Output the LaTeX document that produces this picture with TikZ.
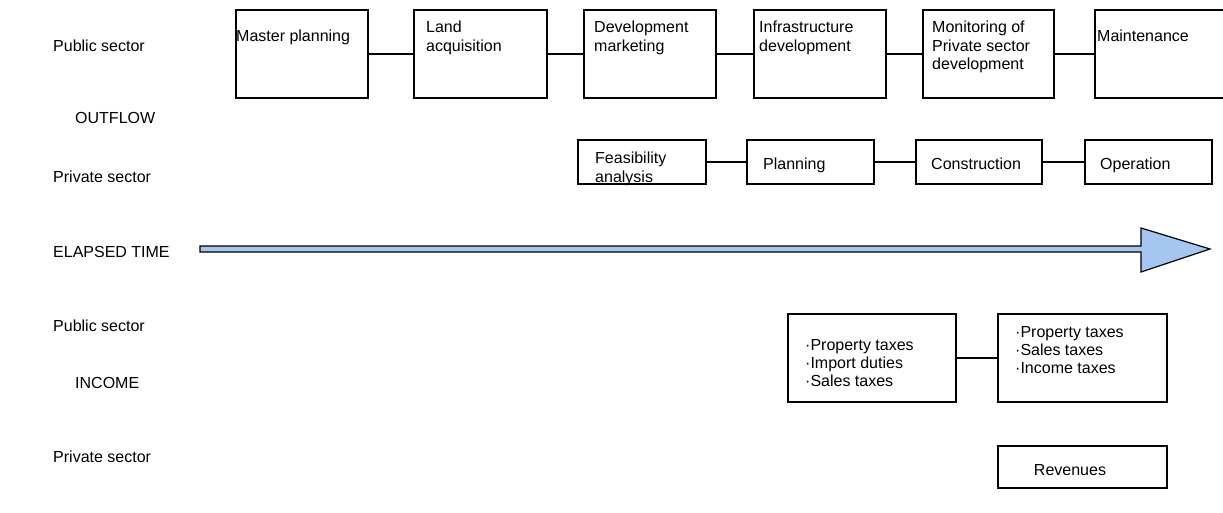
\documentclass[tikz,border=0pt]{standalone}
\usepackage{fontspec}
\setmainfont{Liberation Sans}
\usetikzlibrary{calc}
\definecolor{arrowblue}{RGB}{164,198,240}
\begin{document}
\begin{tikzpicture}[x=1pt,y=-1pt,
  box/.style={draw=black,line width=1.4pt,inner sep=0pt,fill=none},
  txt/.style={inner sep=0pt,font=\fontsize{16}{18.5}\selectfont,align=left,anchor=north west},
  lbl/.style={inner sep=0pt,font=\fontsize{16}{18.5}\selectfont,anchor=west},
  link/.style={draw=black,line width=1.2pt}]
\useasboundingbox (0,0) rectangle (1223,513);
\fill[white] (0,0) rectangle (1223,513);
% left labels
\node[lbl] (l1) at (53,46) {Public sector};
\node[lbl] (l2) at (75,118) {OUTFLOW};
\node[lbl] (l3) at (53,177) {Private sector};
\node[lbl] (l4) at (53,252) {ELAPSED TIME};
\node[lbl] (l5) at (53,326) {Public sector};
\node[lbl] (l6) at (75,383) {INCOME};
\node[lbl] (l7) at (53,457) {Private sector};
% top row boxes
\node[box,minimum width=132pt,minimum height=88pt] (mp) at (302,54) {};
\node[box,minimum width=133pt,minimum height=88pt] (la) at (480.5,54) {};
\node[box,minimum width=132pt,minimum height=88pt] (dm) at (650,54) {};
\node[box,minimum width=132pt,minimum height=88pt] (id) at (820,54) {};
\node[box,minimum width=131pt,minimum height=88pt] (mo) at (988.5,54) {};
\node[box,minimum width=132pt,minimum height=88pt] (mt) at (1161,54) {};
\node[txt] (tmp) at (236,30) {Master planning};
\node[txt] (tla) at (426,21) {Land\\acquisition};
\node[txt] (tdm) at (594,21) {Development\\marketing};
\node[txt] (tid) at (759,21) {Infrastructure\\development};
\node[txt] (tmo) at (932,21) {Monitoring of\\Private sector\\development};
\node[txt] (tmt) at (1097,30) {Maintenance};
\path[link] (mp.east) -- (la.west);
\path[link] (la.east) -- (dm.west);
\path[link] (dm.east) -- (id.west);
\path[link] (id.east) -- (mo.west);
\path[link] (mo.east) -- (mt.west);
% private sector row
\node[box,minimum width=128pt,minimum height=44pt] (fa) at (642,162) {};
\node[box,minimum width=127pt,minimum height=44pt] (pl) at (810.5,162) {};
\node[box,minimum width=126pt,minimum height=44pt] (co) at (979,162) {};
\node[box,minimum width=127pt,minimum height=44pt] (op) at (1148.5,162) {};
\node[txt,font=\fontsize{16}{19}\selectfont] (tfa) at (595,152) {Feasibility\\analysis};
\node[txt] (tpl) at (763,158) {Planning};
\node[txt] (tco) at (931,158) {Construction};
\node[txt] (top) at (1100,158) {Operation};
\path[link] (fa.east) -- (pl.west);
\path[link] (pl.east) -- (co.west);
\path[link] (co.east) -- (op.west);
% elapsed time arrow
\coordinate (as) at (200,249);
\coordinate (at) at (1210,249);
\filldraw[fill=arrowblue,draw=black,line width=1.2pt,line join=miter]
  ($(as)+(0,-3)$) -- (1141,246) -- (1141,228) -- (at) -- (1141,272) -- (1141,252) -- ($(as)+(0,3)$) -- cycle;
% income boxes
\node[box,minimum width=168pt,minimum height=88pt] (ib1) at (872,358) {};
\node[box,minimum width=169pt,minimum height=88pt] (ib2) at (1082.5,358) {};
\node[box,minimum width=169pt,minimum height=42pt] (rv) at (1082.5,467) {};
\node[txt,font=\fontsize{16}{18}\selectfont] (tib1) at (805,339) {·Property taxes\\·Import duties\\·Sales taxes};
\node[txt,font=\fontsize{16}{18}\selectfont] (tib2) at (1015,326) {·Property taxes\\·Sales taxes\\·Income taxes};
\node[inner sep=0pt,font=\fontsize{16}{18}\selectfont] (trv) at (1070,470) {Revenues};
\path[link] (ib1.east) -- (ib2.west);
\end{tikzpicture}
\end{document}
